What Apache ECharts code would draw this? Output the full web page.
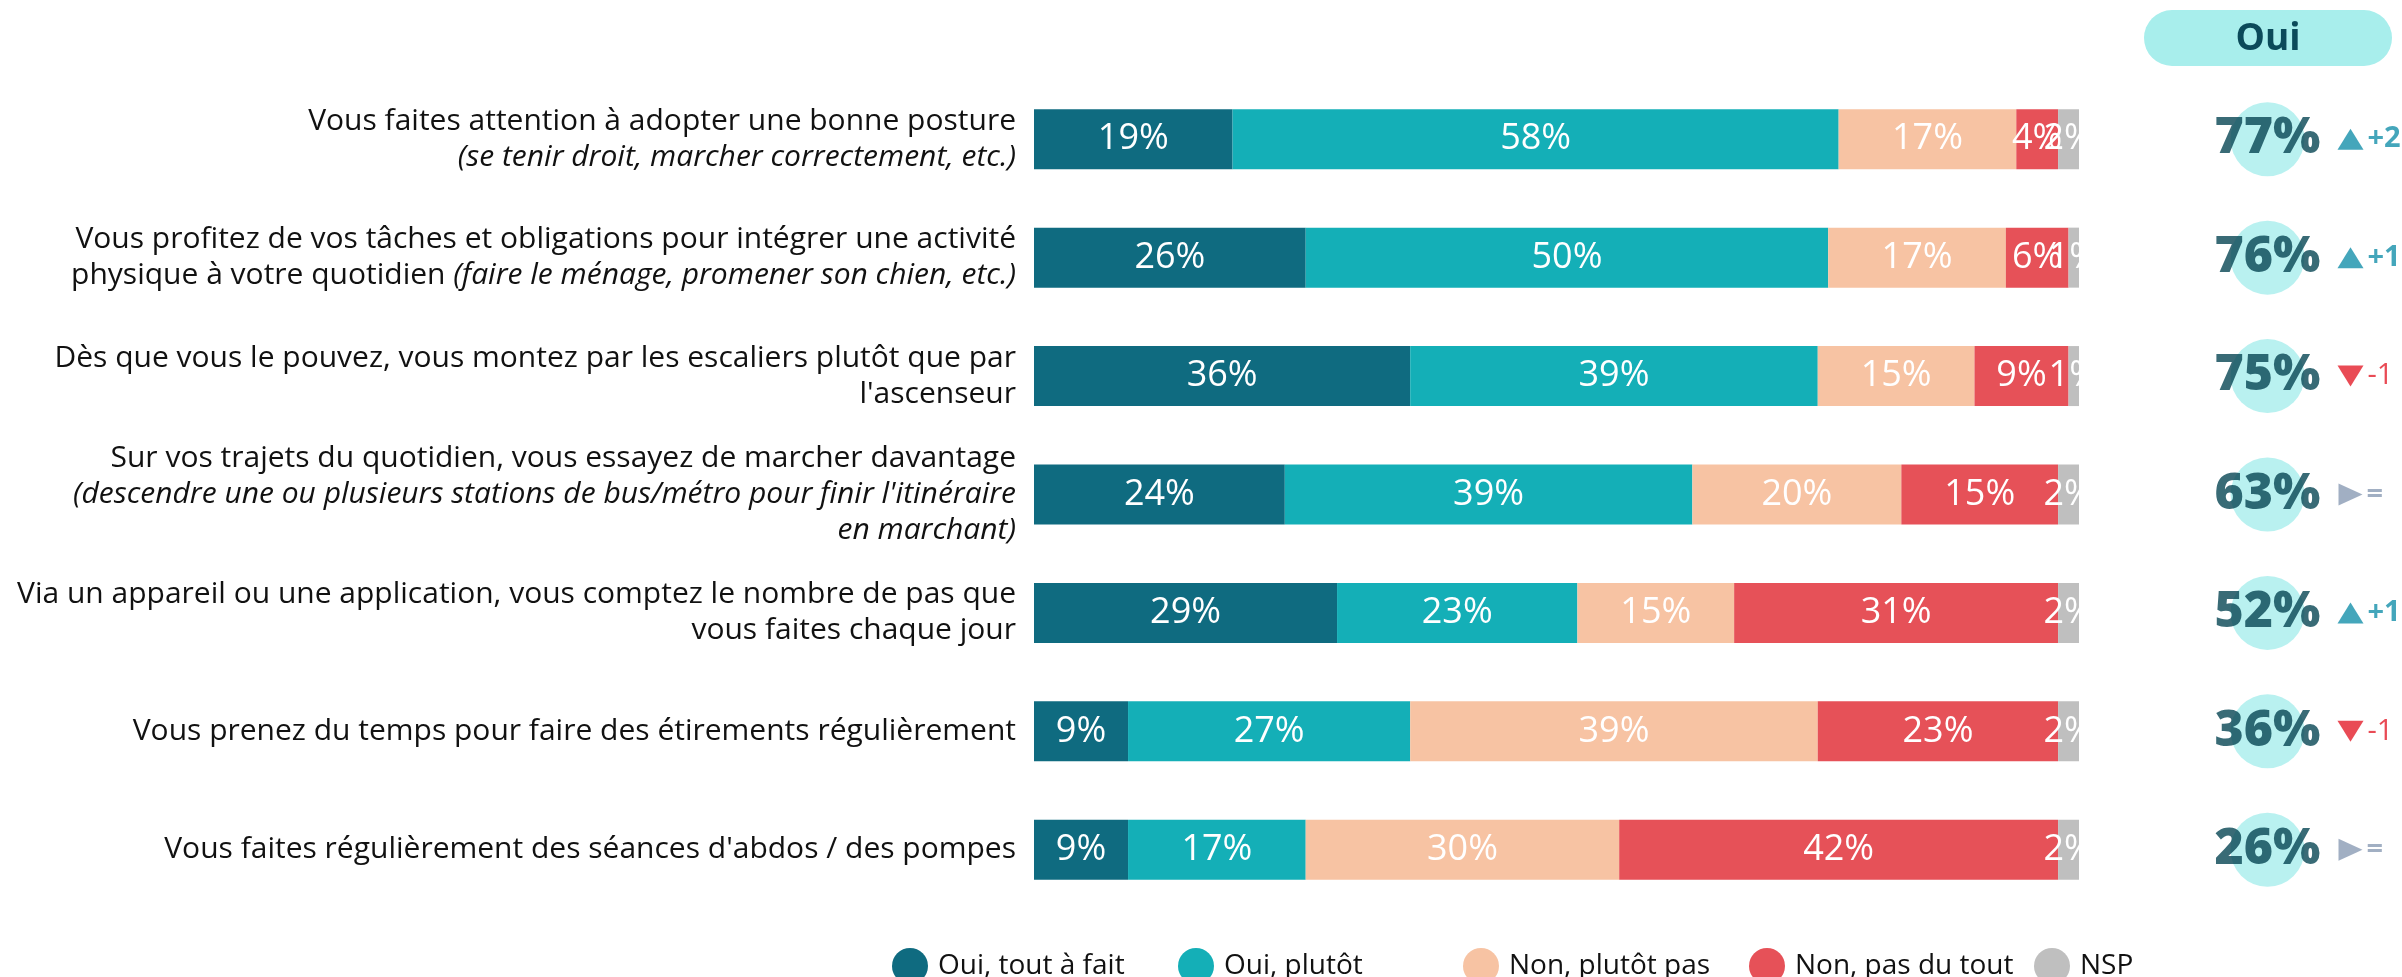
<!DOCTYPE html>
<html>
<head>
<meta charset="utf-8">
<script src="https://cdn.jsdelivr.net/npm/echarts@6/dist/echarts.min.js"></script>
<style>
  html, body { margin: 0; padding: 0; background: #fff; }
  #main { width: 2402px; height: 977px; }
</style>
</head>
<body>
<div id="main"></div>
<script>
var categories = [
    "Vous faites attention à adopter une bonne posture\n(se tenir droit, marcher correctement, etc.)",
    "Vous profitez de vos tâches et obligations pour intégrer une activité\nphysique à votre quotidien (faire le ménage, promener son chien, etc.)",
    "Dès que vous le pouvez, vous montez par les escaliers plutôt que par\nl'ascenseur",
    "Sur vos trajets du quotidien, vous essayez de marcher davantage\n(descendre une ou plusieurs stations de bus/métro pour finir l'itinéraire\nen marchant)",
    "Via un appareil ou une application, vous comptez le nombre de pas que\nvous faites chaque jour",
    "Vous prenez du temps pour faire des étirements régulièrement",
    "Vous faites régulièrement des séances d'abdos / des pompes"
];
var seriesNames = ['Oui, tout à fait', 'Oui, plutôt', 'Non, plutôt pas', 'Non, pas du tout', 'NSP'];
var ouiToutAFait = [19, 26, 36, 24, 29, 9, 9];
var ouiPlutot = [58, 50, 39, 39, 23, 27, 17];
var nonPlutotPas = [17, 17, 15, 20, 15, 39, 30];
var nonPasDuTout = [4, 6, 9, 15, 31, 23, 42];
var nsp = [2, 1, 1, 2, 2, 2, 2];
var totalOui = [77, 76, 75, 63, 52, 36, 26];
var evolution = [2, 1, -1, 0, 1, -1, 0];

var colors = ['#0F6B80', '#14AFB7', '#F7C3A3', '#E65158', '#BFBFBF'];
var FONT = '"Open Sans", "Noto Sans", sans-serif';

// italique pour les parties entre parenthèses
function wrap(s, it) {
    return s ? '{' + (it ? 'i' : 'n') + '|' + s + '}' : '';
}
function formatLabel(text) {
    var inItalic = false;
    return text.split('\n').map(function (line) {
        var out = '', buf = '';
        for (var k = 0; k < line.length; k++) {
            var ch = line[k];
            if (ch === '(' && !inItalic) {
                out += wrap(buf, false); buf = ch; inItalic = true;
            } else if (ch === ')' && inItalic) {
                buf += ch; out += wrap(buf, true); buf = ''; inItalic = false;
            } else {
                buf += ch;
            }
        }
        out += wrap(buf, inItalic);
        return out;
    }).join('\n');
}

var myChart = echarts.init(document.getElementById('main'));

var values = [ouiToutAFait, ouiPlutot, nonPlutotPas, nonPasDuTout, nsp];
var barSeries = values.map(function (arr, i) {
    return {
        name: seriesNames[i],
        type: 'bar',
        stack: 'total',
        barWidth: 60,
        xAxisIndex: 0,
        yAxisIndex: 0,
        itemStyle: { color: colors[i] },
        label: {
            show: true,
            position: 'inside',
            formatter: '{c}%',
            color: '#fff',
            fontSize: 36,
            fontFamily: FONT
        },
        data: arr
    };
});

function trendColor(v) {
    return v > 0 ? '#1590AA' : (v < 0 ? '#E31E2A' : '#8A9BB4');
}

var legendLeft = [887, 1173, 1458, 1744, 2029];

var option = {
    animation: false,
    grid: [
        { left: 1034, right: 323, top: 80, height: 829 },
        { left: 2226, width: 166, top: 80, height: 829 }
    ],
    xAxis: [
        { type: 'value', gridIndex: 0, min: 0, max: 100, show: false },
        { type: 'category', gridIndex: 1, data: ['Oui', 'Évolution'], show: false }
    ],
    yAxis: [
        {
            type: 'category',
            gridIndex: 0,
            inverse: true,
            data: categories,
            axisLine: { show: false },
            axisTick: { show: false },
            axisLabel: {
                margin: 18,
                align: 'right',
                formatter: formatLabel,
                rich: {
                    n: { fontSize: 30, lineHeight: 36, color: '#111', fontFamily: FONT },
                    i: { fontSize: 30, lineHeight: 36, color: '#111', fontFamily: FONT, fontStyle: 'italic' }
                }
            }
        },
        { type: 'category', gridIndex: 1, inverse: true, data: categories, show: false }
    ],
    legend: seriesNames.map(function (n, i) {
        return {
            data: [n],
            left: legendLeft[i],
            top: 943,
            icon: 'circle',
            itemWidth: 36,
            itemHeight: 36,
            textStyle: { fontSize: 28, color: '#111', fontFamily: FONT, padding: [0, 0, 0, 5] }
        };
    }),
    graphic: [{
        type: 'group',
        left: 2144,
        top: 10,
        children: [
            { type: 'rect', shape: { x: 0, y: 0, width: 248, height: 56, r: 28 }, style: { fill: '#A8EEEC' } },
            {
                type: 'text', x: 124, y: 29,
                style: { text: 'Oui', fill: '#0B4A5A', font: 'bold 37px "Open Sans"', textAlign: 'center', textVerticalAlign: 'middle' }
            }
        ]
    }],
    series: barSeries.concat([
        {
            type: 'scatter',
            xAxisIndex: 1,
            yAxisIndex: 1,
            symbol: 'circle',
            symbolSize: 74,
            itemStyle: { color: '#A8EEEC' },
            label: {
                show: true,
                position: 'inside',
                formatter: function (p) { return p.value[2] + '%'; },
                color: '#084654',
                fontSize: 50,
                fontWeight: 800,
                fontFamily: FONT
            },
            data: totalOui.map(function (v, i) { return ['Oui', i, v]; })
        },
        {
            type: 'scatter',
            xAxisIndex: 1,
            yAxisIndex: 1,
            data: evolution.map(function (v, i) {
                return {
                    value: ['Évolution', i, v],
                    symbol: 'triangle',
                    symbolSize: v === 0 ? [22, 24] : [26, 21],
                    symbolRotate: v > 0 ? 0 : (v < 0 ? 180 : -90),
                    itemStyle: { color: trendColor(v) },
                    label: {
                        show: true,
                        position: 'right',
                        distance: 4,
                        color: trendColor(v),
                        fontSize: 29,
                        fontWeight: v < 0 ? 'normal' : 'bold',
                        fontFamily: FONT,
                        formatter: v > 0 ? '+' + v : (v < 0 ? String(v) : '=')
                    }
                };
            })
        }
    ])
};

myChart.setOption(option);
</script>
</body>
</html>
